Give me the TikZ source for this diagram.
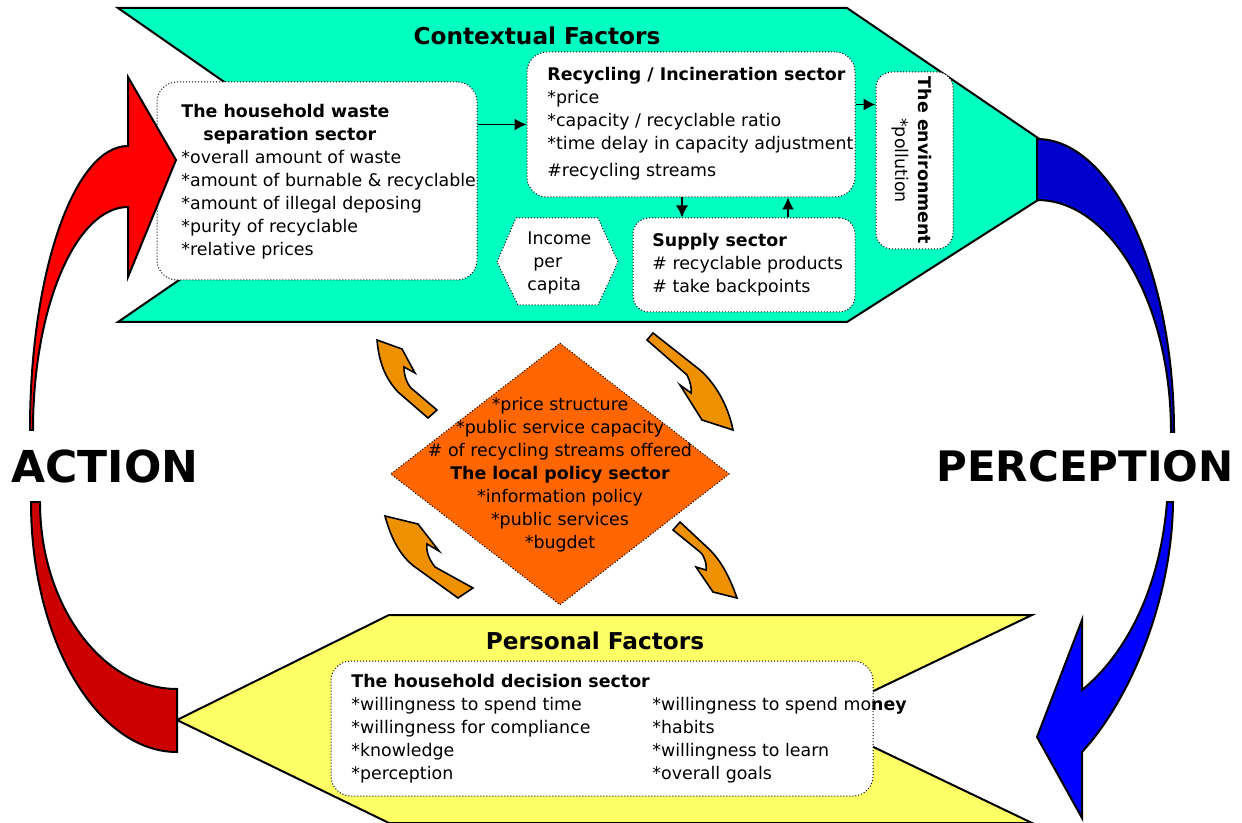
\documentclass[tikz,border=0pt]{standalone}
\usepackage{fontspec}
\setmainfont{DejaVu Sans}
\usetikzlibrary{arrows.meta,%
                shapes.geometric}

\definecolor{contextcol}{RGB}{0,255,192}
\definecolor{personcol}{RGB}{255,255,102}
\definecolor{policycol}{RGB}{255,102,0}
\definecolor{hookcol}{RGB}{238,145,0}
\definecolor{actred}{RGB}{255,0,0}
\definecolor{actdark}{RGB}{204,0,0}
\definecolor{percdark}{RGB}{0,0,204}
\definecolor{percblue}{RGB}{0,0,255}
\newcommand{\sectorfont}{\fontsize{8.7pt}{11.5pt}\selectfont}

\begin{document}
\begin{tikzpicture}[x=0.5pt,y=-0.5pt]
  \tikzstyle{band}=[draw=black,line width=1pt,line join=miter]
  \tikzstyle{sector}=[draw=black,densely dotted,line width=0.5pt,fill=white,rounded corners=10pt,inner sep=0pt]
  \tikzstyle{sectortext}=[align=left,inner sep=0pt,font=\sectorfont]
  \tikzstyle{flow}=[-{Latex[length=6pt,width=6pt]},line width=0.7pt]
  \tikzstyle{hookarrow}=[draw=black,line width=0.8pt,fill=hookcol,line join=miter]
  \tikzstyle{factor}=[font=\bfseries\fontsize{11.6pt}{14pt}\selectfont,inner sep=0pt]
  \tikzstyle{cyclelabel}=[font=\bfseries\fontsize{22pt}{26pt}\selectfont,inner sep=0pt]
  \useasboundingbox (0,0) rectangle (1242,823);
  % contextual factors
  \filldraw[band,fill=contextcol] (118,8) -- (847,8) -- (1085,170) -- (847,322) -- (118,322) -- (345,166) -- cycle;
  \node[factor] (ctx) at (537,36) {Contextual Factors};
  \node[sector,minimum width=160pt,minimum height=99pt] (hh) at (317,181) {};
  \node[sectortext,anchor=west] (hhtext) at (181,182) {\textbf{The household waste}\\
    \hspace*{11pt}\textbf{separation sector}\\
    {*}overall amount of waste\\
    {*}amount of burnable \& recyclable\\
    {*}amount of illegal deposing\\
    {*}purity of recyclable\\
    {*}relative prices};
  \node[sector,minimum width=164pt,minimum height=72.5pt] (rec) at (691,124.5) {};
  \node[sectortext,anchor=west] (rectext) at (547,124) {\textbf{Recycling / Incineration sector}\\
    {*}price\\
    {*}capacity / recyclable ratio\\
    {*}time delay in capacity adjustment\\[2pt]
    \#recycling streams};
  \node[sector,minimum width=38.5pt,minimum height=88.5pt,rounded corners=8pt] (env) at (914.5,160.5) {};
  \node[sectortext,align=center,rotate=-90] (envtext) at ([xshift=-1.5pt]env.center) {\textbf{The environment}\\{*}pollution};
  \node[sector,minimum width=111pt,minimum height=47pt,rounded corners=8pt] (sup) at (744,265) {};
  \node[sectortext,anchor=west] (suptext) at (652,265) {\textbf{Supply sector}\\
    \# recyclable products\\
    \# take backpoints};
  \filldraw[sector,sharp corners] (497,262) -- (516,218) -- (598,218) -- (618,262) -- (598,305) -- (518,305) -- cycle;
  \node[sectortext,anchor=west] (inc) at (527,263) {Income\\\hspace*{3pt}per\\capita};
  \draw[flow] (hh.east |- rec.west) -- (rec.west);
  \draw[flow] ([yshift=10pt]rec.east) -- ([yshift=10pt]rec.east -| env.west);
  \draw[flow] ([xshift=-31pt]sup.north |- rec.south) -- ([xshift=-31pt]sup.north);
  \draw[flow] ([xshift=22pt]sup.north) -- ([xshift=22pt]sup.north |- rec.south);
  % personal factors
  \filldraw[band,fill=personcol] (389,615) -- (1032,615) -- (815,719) -- (1032,823) -- (389,823) -- (177,720) -- cycle;
  \node[factor] (pers) at (595,641) {Personal Factors};
  \node[sector,minimum width=271pt,minimum height=67.5pt] (dec) at (602,728.5) {};
  \node[sectortext,anchor=west] (dectext) at (351,729) {\begin{tabular}{@{}l@{}l@{}}
    \multicolumn{2}{@{}l@{}}{\textbf{The household decision sector}}\\
    \makebox[150.5pt][l]{{*}willingness to spend time} & {*}willingness to spend mo\textbf{ney}\\
    \makebox[150.5pt][l]{{*}willingness for compliance} & {*}habits\\
    \makebox[150.5pt][l]{{*}knowledge} & {*}willingness to learn\\
    \makebox[150.5pt][l]{{*}perception} & {*}overall goals
    \end{tabular}};
  % local policy
  \node[diamond,draw=black,densely dotted,line width=0.5pt,fill=policycol,inner sep=0pt,
        minimum width=169.5pt,minimum height=131pt] (pol) at (560,474) {};
  \node[sectortext,align=center] (poltext) at (560,475) {{*}price structure\\
    {*}public service capacity\\
    \# of recycling streams offered\\
    \textbf{The local policy sector}\\
    {*}information policy\\
    {*}public services\\
    {*}bugdet};
  \filldraw[hookarrow] (428,418) -- (398,392) .. controls (385,378) and (379,362) .. (377,340) -- (402,349) -- (415,373)
    -- (404,367) .. controls (404,375) and (406,382) .. (411,388) -- (437,410) -- cycle;
  \filldraw[hookarrow] (653,333) -- (700,370) .. controls (715,383) and (728,405) .. (733,430) -- (702,420) -- (680,385)
    -- (691,393) .. controls (692,388) and (690,381) .. (687,375) -- (647,340) -- cycle;
  \filldraw[hookarrow] (458,598) -- (415,567) .. controls (400,556) and (391,538) .. (385,516) -- (418,524) -- (439,551)
    -- (427,544) .. controls (426,550) and (428,558) .. (435,567) -- (473,588) -- cycle;
  \filldraw[hookarrow] (680,522) -- (710,550) .. controls (720,560) and (729,575) .. (737,598) -- (713,592) -- (696,567)
    -- (706,570) .. controls (707,566) and (705,556) .. (700,552) -- (673,530) -- cycle;
  % action
  \filldraw[band,fill=actred] (128,146) -- (128,77) -- (176,160) -- (128,277) -- (128,207)
    .. controls (76,207) and (33,307) .. (33,430) -- (30,430) .. controls (30,273) and (74,146) .. (128,146) -- cycle;
  \filldraw[band,fill=actdark] (31,502) -- (40,502) .. controls (40,605) and (102,689) .. (177,689) -- (177,752)
    .. controls (97,752) and (31,640) .. (31,502) -- cycle;
  \node[cyclelabel] (act) at (105,466) {ACTION};
  % perception
  \filldraw[band,fill=percdark] (1037,139) .. controls (1112,139) and (1174,271) .. (1174,432) -- (1171,432)
    .. controls (1171,304) and (1111,200) .. (1037,200) -- cycle;
  \filldraw[band,fill=percblue] (1167,502) -- (1173,502) .. controls (1172,600) and (1130,700) .. (1082,752) -- (1082,818)
    -- (1037,737) -- (1082,620) -- (1082,690) .. controls (1125,655) and (1160,590) .. (1167,502) -- cycle;
  \node[cyclelabel,font=\bfseries\fontsize{21pt}{26pt}\selectfont] (perc) at (1085,466) {PERCEPTION};
\end{tikzpicture}
\end{document}
